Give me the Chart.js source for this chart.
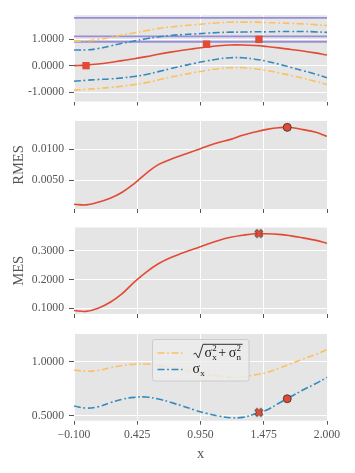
<!DOCTYPE html>
<html>
<head>
<meta charset="utf-8">
<script src="https://cdn.jsdelivr.net/npm/chart.js@4.4.0/dist/chart.umd.min.js"></script>
<style>
  body { margin: 0; background: #fff; width: 355px; height: 473px; position: relative; overflow: hidden; }
  canvas { position: absolute; left: 0; }
</style>
</head>
<body>
<canvas id="c1" width="355" height="100" style="top:10px"></canvas>
<canvas id="c2" width="355" height="101" style="top:116px"></canvas>
<canvas id="c3" width="355" height="100" style="top:222px"></canvas>
<canvas id="c4" width="355" height="138" style="top:328px"></canvas>
<script>
// data
const xs = [-0.1, 0.0, 0.1, 0.2, 0.3, 0.4, 0.5, 0.6, 0.7, 0.8, 0.9, 1.0, 1.1, 1.2, 1.3, 1.4, 1.5, 1.6, 1.7, 1.8, 1.9, 2.0]
const mu = [0.0, 0.02, 0.06, 0.12, 0.19, 0.26, 0.34, 0.43, 0.51, 0.58, 0.64, 0.70, 0.75, 0.78, 0.78, 0.76, 0.72, 0.67, 0.61, 0.55, 0.48, 0.40]
const muPlusSx = [0.59, 0.591, 0.643, 0.74, 0.842, 0.93, 1.013, 1.085, 1.134, 1.17, 1.193, 1.222, 1.247, 1.261, 1.265, 1.276, 1.273, 1.285, 1.286, 1.288, 1.273, 1.255]
const muMinusSx = [-0.59, -0.551, -0.523, -0.50, -0.462, -0.41, -0.333, -0.225, -0.114, -0.01, 0.087, 0.178, 0.253, 0.299, 0.295, 0.244, 0.167, 0.055, -0.066, -0.188, -0.313, -0.455]
const muPlusSt = [0.923, 0.931, 0.979, 1.063, 1.154, 1.236, 1.318, 1.396, 1.455, 1.503, 1.54, 1.581, 1.617, 1.637, 1.64, 1.638, 1.62, 1.609, 1.59, 1.574, 1.544, 1.511]
const muMinusSt = [-0.923, -0.891, -0.859, -0.823, -0.774, -0.716, -0.638, -0.536, -0.435, -0.343, -0.26, -0.181, -0.117, -0.077, -0.08, -0.118, -0.18, -0.269, -0.37, -0.474, -0.584, -0.711]
const obsX = [0.0, 1.0, 1.435]
const obsY = [0.0, 0.81, 0.99]
const hLines = [1.8, 1.1, 0.9]

const rmes = [0.00108, 0.00097, 0.0014, 0.00205, 0.00302, 0.00442, 0.0061, 0.0075, 0.00835, 0.00905, 0.00974, 0.01045, 0.0111, 0.0116, 0.01226, 0.01279, 0.01323, 0.0135, 0.01353, 0.01318, 0.01279, 0.0121]
const mes = [0.092, 0.089, 0.1, 0.121, 0.151, 0.191, 0.226, 0.255, 0.276, 0.292, 0.307, 0.322, 0.336, 0.347, 0.354, 0.359, 0.359, 0.357, 0.352, 0.345, 0.337, 0.326]

const sigmaX = [0.59, 0.571, 0.583, 0.62, 0.652, 0.67, 0.673, 0.655, 0.624, 0.59, 0.553, 0.522, 0.497, 0.481, 0.485, 0.516, 0.553, 0.615, 0.676, 0.738, 0.793, 0.855]
const sigmaTot = [0.923, 0.911, 0.919, 0.943, 0.964, 0.976, 0.978, 0.966, 0.945, 0.923, 0.900, 0.881, 0.867, 0.857, 0.860, 0.878, 0.900, 0.939, 0.980, 1.024, 1.064, 1.111]

const rmesPickX = [1.67], rmesPickY = [0.01355]
const mesPickX = [1.435], mesPickY = [0.36]
const sigmaAtMesPick = [0.531], sigmaAtRmesPick = [0.657]

const xTicks = [-0.1, 0.425, 0.95, 1.475, 2.0]
const yTicks1 = [-1, 0, 1]
const yTicks2 = [0.005, 0.01]
const yTicks3 = [0.1, 0.2, 0.3]
const yTicks4 = [0.5, 1.0]

const RED = '#E24A33', BLUE = '#348ABD', ORANGE = '#FBC15E', PURPLE = '#988ED5'
const FONT = "'Liberation Serif', 'DejaVu Serif', serif"
const DASHDOT = [7, 2.6, 1.8, 2.6]

function pts(xArr, yArr) {
  return xArr.map((x, i) => ({x: x, y: yArr[i]}))
}

function line(data, color, dashed, order) {
  return {
    data: data, borderColor: color, borderWidth: 1.6,
    borderDash: dashed ? DASHDOT : [], pointRadius: 0, fill: false,
    tension: 0.4, order: order
  }
}

function marker(data, style, radius, order) {
  return {
    data: data, showLine: false, pointStyle: style, pointRadius: radius,
    pointBackgroundColor: RED, pointBorderColor: style === 'rect' ? RED : '#3a3a3a',
    pointBorderWidth: style === 'rect' ? 0 : 0.9, order: order, clip: false
  }
}

// filled "X" marker like matplotlib's
function xMarker() {
  const c = document.createElement('canvas')
  c.width = c.height = 12
  const g = c.getContext('2d')
  const L = 4.3, w = 1.6
  const plus = [[w, L], [w, w], [L, w], [L, -w], [w, -w], [w, -L], [-w, -L], [-w, -w], [-L, -w], [-L, w], [-w, w], [-w, L]]
  const r = Math.SQRT1_2
  g.beginPath()
  plus.forEach(([px, py], i) => {
    const qx = 6 + (px - py) * r, qy = 6 + (px + py) * r
    if (i === 0) g.moveTo(qx, qy); else g.lineTo(qx, qy)
  })
  g.closePath()
  g.fillStyle = RED
  g.fill()
  g.strokeStyle = '#3a3a3a'
  g.lineWidth = 0.9
  g.stroke()
  return c
}
const X_MARK = xMarker()

const plotBg = {
  id: 'plotBg',
  beforeDraw(chart) {
    const {ctx, chartArea: a} = chart
    ctx.save()
    ctx.fillStyle = '#E5E5E5'
    ctx.fillRect(a.left, a.top, a.right - a.left, a.bottom - a.top)
    ctx.restore()
  }
}

// labels never sit on the plot edges here, so drop chart.js's edge padding
function noEdgePad(s) {
  s.paddingTop = 0
  s.paddingBottom = 0
  s.paddingLeft = 0
  s.paddingRight = 0
}

function options(cfg) {
  return {
    responsive: false, animation: false, devicePixelRatio: 1,
    layout: {padding: {top: cfg.padTop, right: 28, left: 0, bottom: 0}},
    plugins: {legend: {display: false}, tooltip: {enabled: false}},
    scales: {
      x: {
        type: 'linear', min: -0.1, max: 2.0,
        afterBuildTicks: s => { s.ticks = xTicks.map(v => ({value: v})) },
        afterFit: s => { s.height = cfg.xh; noEdgePad(s) },
        grid: {color: '#ffffff', lineWidth: 1, tickColor: '#555555', tickLength: 4},
        border: {display: false},
        ticks: {
          display: !!cfg.xLabels, color: '#555555', padding: 3,
          font: {family: FONT, size: 11.7},
          callback: v => (v < 0 ? '\u2212' : '') + Math.abs(v).toFixed(3)
        },
        title: {display: !!cfg.xLabels, text: 'x', color: '#555555', font: {family: FONT, size: 14.5}, padding: {top: 2, bottom: 3}}
      },
      y: {
        min: cfg.ymin, max: cfg.ymax,
        afterBuildTicks: s => { s.ticks = cfg.yTicks.map(v => ({value: v})) },
        afterFit: s => { s.width = 74; noEdgePad(s) },
        grid: {color: '#ffffff', lineWidth: 1, tickColor: '#555555', tickLength: 5},
        border: {display: false},
        ticks: {color: '#555555', padding: 5, font: {family: FONT, size: 11.7}, callback: v => v.toFixed(4)},
        title: {display: !!cfg.yTitle, text: cfg.yTitle || '', color: '#555555', font: {family: FONT, size: 14.5}, padding: {top: 10, bottom: 0}}
      }
    }
  }
}

// panel 1: posterior mean with bands
const p1Sets = [
  marker(pts(obsX, obsY), 'rect', 5.2, 0),
  line(pts(xs, mu), RED, false, 1),
  line(pts(xs, muPlusSx), BLUE, true, 2),
  line(pts(xs, muMinusSx), BLUE, true, 2),
  line(pts(xs, muPlusSt), ORANGE, true, 3),
  line(pts(xs, muMinusSt), ORANGE, true, 3)
]
hLines.forEach(h => {
  p1Sets.push({data: [{x: -0.1, y: h}, {x: 2.0, y: h}], borderColor: PURPLE, borderWidth: 1.8, pointRadius: 0, order: 4})
})
new Chart(document.getElementById('c1'), {
  type: 'line', data: {datasets: p1Sets}, plugins: [plotBg],
  options: options({padTop: 4, xh: 8.5, ymin: -1.35, ymax: 1.9, yTicks: yTicks1})
})

// panel 2: RMES
new Chart(document.getElementById('c2'), {
  type: 'line', plugins: [plotBg],
  data: {datasets: [
    marker(pts(rmesPickX, rmesPickY), 'circle', 4, 0),
    line(pts(xs, rmes), RED, false, 1)
  ]},
  options: options({padTop: 4.5, xh: 8, ymin: 0.0003, ymax: 0.0146, yTicks: yTicks2, yTitle: 'RMES'})
})

// panel 3: MES
new Chart(document.getElementById('c3'), {
  type: 'line', plugins: [plotBg],
  data: {datasets: [
    marker(pts(mesPickX, mesPickY), X_MARK, 4, 0),
    line(pts(xs, mes), RED, false, 1)
  ]},
  options: options({padTop: 5.5, xh: 8, ymin: 0.08, ymax: 0.381, yTicks: yTicks3, yTitle: 'MES'})
})

// panel 4: standard deviations, legend drawn by hand (math labels)
const mathLegend = {
  id: 'mathLegend',
  afterDraw(chart) {
    const ctx = chart.ctx
    const a = chart.chartArea
    const bx = a.left + 78.5, by = a.top + 5.5, bw = 96.5, bh = 41.5
    ctx.save()
    ctx.fillStyle = 'rgba(236,236,236,0.8)'
    ctx.strokeStyle = '#cccccc'
    ctx.lineWidth = 1
    ctx.beginPath()
    ctx.roundRect(bx, by, bw, bh, 2.5)
    ctx.fill()
    ctx.stroke()

    const rows = [{y: by + 13.5, color: ORANGE}, {y: by + 30, color: BLUE}]
    rows.forEach(r => {
      ctx.strokeStyle = r.color
      ctx.lineWidth = 1.6
      ctx.setLineDash(DASHDOT)
      ctx.beginPath()
      ctx.moveTo(bx + 5, r.y)
      ctx.lineTo(bx + 30, r.y)
      ctx.stroke()
    })
    ctx.setLineDash([])

    ctx.fillStyle = '#1a1a1a'
    ctx.textBaseline = 'alphabetic'
    const big = '14px ' + FONT, small = '9px ' + FONT
    // sqrt(sigma_x^2 + sigma_n^2)
    let y = rows[0].y + 4
    let x = bx + 52
    ctx.font = big
    ctx.fillText('\u03c3', x, y)
    let sx = x + ctx.measureText('\u03c3').width + 0.3
    ctx.font = small
    ctx.fillText('2', sx, y - 6)
    ctx.fillText('x', sx, y + 2.5)
    x = sx + 6
    ctx.font = big
    ctx.fillText('+', x, y)
    x += ctx.measureText('+').width + 2.5
    ctx.fillText('\u03c3', x, y)
    sx = x + ctx.measureText('\u03c3').width + 0.3
    ctx.font = small
    ctx.fillText('2', sx, y - 6)
    ctx.fillText('n', sx, y + 2.5)
    const endX = sx + 6
    ctx.strokeStyle = '#1a1a1a'
    ctx.lineWidth = 0.9
    ctx.beginPath()
    ctx.moveTo(bx + 41, rows[0].y + 1.2)
    ctx.lineTo(bx + 43, rows[0].y)
    ctx.lineTo(bx + 46, rows[0].y + 5)
    ctx.lineTo(bx + 50.5, rows[0].y - 8.7)
    ctx.lineTo(endX, rows[0].y - 8.7)
    ctx.stroke()

    // sigma_x
    y = rows[1].y + 3.5
    x = bx + 40
    ctx.font = big
    ctx.fillText('\u03c3', x, y)
    sx = x + ctx.measureText('\u03c3').width + 0.3
    ctx.font = small
    ctx.fillText('x', sx, y + 2.5)
    ctx.restore()
  }
}

new Chart(document.getElementById('c4'), {
  type: 'line', plugins: [plotBg, mathLegend],
  data: {datasets: [
    marker(pts(mesPickX, sigmaAtMesPick), X_MARK, 4, 0),
    marker(pts(rmesPickX, sigmaAtRmesPick), 'circle', 4, 0),
    line(pts(xs, sigmaTot), ORANGE, true, 2),
    line(pts(xs, sigmaX), BLUE, true, 1)
  ]},
  options: options({padTop: 6, xh: 45.3, ymin: 0.454, ymax: 1.256, yTicks: yTicks4, xLabels: true})
})
</script>
</body>
</html>
